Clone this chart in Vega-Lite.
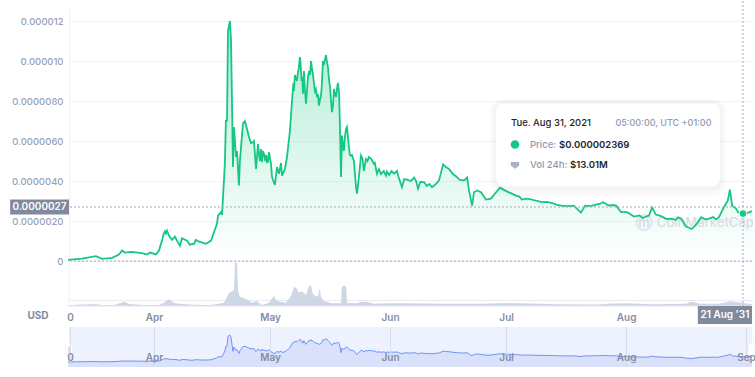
{"$schema":"https://vega.github.io/schema/vega-lite/v6.json","padding":{"left":10,"top":0,"right":0,"bottom":0},"background":"white","bounds":"flush","spacing":0,
"config":{"view":{"stroke":null},"font":"Inter","axis":{"labelFont":"Inter","title":null}},
"datasets":{"one":[{"n":1}],
"prices":[{"d":"2021-03-09T19:00","p":0.06e-6},{"d":"2021-03-13T10:00","p":0.12e-6},{"d":"2021-03-17T00:00","p":0.24e-6},{"d":"2021-03-18T14:00","p":0.11e-6},{"d":"2021-03-21T04:00","p":0.16e-6},{"d":"2021-03-22T23:00","p":0.32e-6},{"d":"2021-03-23T18:00","p":0.52e-6},{"d":"2021-03-24T12:00","p":0.42e-6},{"d":"2021-03-26T01:00","p":0.46e-6},{"d":"2021-03-28T22:00","p":0.39e-6},{"d":"2021-03-30T05:00","p":0.32e-6},{"d":"2021-03-30T23:00","p":0.42e-6},{"d":"2021-04-01T12:00","p":0.33e-6},{"d":"2021-04-02T07:00","p":0.52e-6},{"d":"2021-04-03T02:00","p":1.02e-6},{"d":"2021-04-03T10:00","p":1.3e-6},{"d":"2021-04-03T20:00","p":1.49e-6},{"d":"2021-04-04T02:00","p":1.38e-6},{"d":"2021-04-04T09:00","p":1.52e-6},{"d":"2021-04-04T21:00","p":1.27e-6},{"d":"2021-04-05T05:00","p":1.18e-6},{"d":"2021-04-05T16:00","p":1.06e-6},{"d":"2021-04-06T10:00","p":1.22e-6},{"d":"2021-04-06T23:00","p":1.02e-6},{"d":"2021-04-07T17:00","p":0.77e-6},{"d":"2021-04-08T06:00","p":1.14e-6},{"d":"2021-04-09T13:00","p":1.02e-6},{"d":"2021-04-10T07:00","p":0.81e-6},{"d":"2021-04-10T20:00","p":0.85e-6},{"d":"2021-04-11T08:00","p":0.86e-6},{"d":"2021-04-11T20:00","p":1.06e-6},{"d":"2021-04-12T12:00","p":0.98e-6},{"d":"2021-04-13T03:00","p":0.94e-6},{"d":"2021-04-14T11:00","p":0.86e-6},{"d":"2021-04-15T18:00","p":1.02e-6},{"d":"2021-04-16T12:00","p":1.44e-6},{"d":"2021-04-17T07:00","p":1.86e-6},{"d":"2021-04-17T13:00","p":2.27e-6},{"d":"2021-04-18T07:00","p":2.44e-6},{"d":"2021-04-18T14:00","p":2.3e-6},{"d":"2021-04-18T20:00","p":3.19e-6},{"d":"2021-04-19T02:00","p":4.02e-6},{"d":"2021-04-19T08:00","p":4.94e-6},{"d":"2021-04-19T14:00","p":7.02e-6},{"d":"2021-04-19T21:00","p":7.02e-6},{"d":"2021-04-20T03:00","p":11.5e-6},{"d":"2021-04-20T15:00","p":12.0e-6},{"d":"2021-04-20T22:00","p":11.0e-6},{"d":"2021-04-21T04:00","p":7.87e-6},{"d":"2021-04-21T10:00","p":4.7e-6},{"d":"2021-04-21T16:00","p":6.7e-6},{"d":"2021-04-22T05:00","p":5.2e-6},{"d":"2021-04-22T11:00","p":5.5e-6},{"d":"2021-04-22T23:00","p":3.78e-6},{"d":"2021-04-23T05:00","p":5.0e-6},{"d":"2021-04-23T12:00","p":5.7e-6},{"d":"2021-04-24T00:00","p":6.87e-6},{"d":"2021-04-24T12:00","p":7.0e-6},{"d":"2021-04-25T01:00","p":6.6e-6},{"d":"2021-04-25T13:00","p":6.2e-6},{"d":"2021-04-26T02:00","p":5.9e-6},{"d":"2021-04-26T14:00","p":5.94e-6},{"d":"2021-04-26T20:00","p":6.0e-6},{"d":"2021-04-27T02:00","p":5.36e-6},{"d":"2021-04-27T09:00","p":4.6e-6},{"d":"2021-04-27T15:00","p":5.2e-6},{"d":"2021-04-27T21:00","p":5.86e-6},{"d":"2021-04-28T03:00","p":5.36e-6},{"d":"2021-04-28T09:00","p":5.0e-6},{"d":"2021-04-28T16:00","p":5.6e-6},{"d":"2021-04-28T22:00","p":4.94e-6},{"d":"2021-04-29T03:00","p":5.5e-6},{"d":"2021-04-29T10:00","p":5.36e-6},{"d":"2021-04-29T18:00","p":5.0e-6},{"d":"2021-04-30T00:00","p":5.3e-6},{"d":"2021-04-30T05:00","p":4.94e-6},{"d":"2021-04-30T11:00","p":4.95e-6},{"d":"2021-04-30T17:00","p":5.44e-6},{"d":"2021-05-01T06:00","p":4.86e-6},{"d":"2021-05-01T12:00","p":4.2e-6},{"d":"2021-05-02T06:00","p":3.8e-6},{"d":"2021-05-02T19:00","p":4.7e-6},{"d":"2021-05-03T07:00","p":4.36e-6},{"d":"2021-05-03T20:00","p":4.9e-6},{"d":"2021-05-04T02:00","p":4.27e-6},{"d":"2021-05-04T20:00","p":4.6e-6},{"d":"2021-05-05T09:00","p":5.2e-6},{"d":"2021-05-06T03:00","p":6.5e-6},{"d":"2021-05-06T16:00","p":8.0e-6},{"d":"2021-05-07T01:00","p":8.9e-6},{"d":"2021-05-07T04:00","p":8.5e-6},{"d":"2021-05-07T10:00","p":9.3e-6},{"d":"2021-05-07T23:00","p":9.0e-6},{"d":"2021-05-08T05:00","p":9.44e-6},{"d":"2021-05-08T10:00","p":9.6e-6},{"d":"2021-05-08T17:00","p":10.2e-6},{"d":"2021-05-08T21:00","p":9.9e-6},{"d":"2021-05-09T00:00","p":9.5e-6},{"d":"2021-05-09T03:00","p":9.0e-6},{"d":"2021-05-09T08:00","p":9.2e-6},{"d":"2021-05-09T12:00","p":8.36e-6},{"d":"2021-05-09T18:00","p":9.5e-6},{"d":"2021-05-10T00:00","p":8.6e-6},{"d":"2021-05-10T07:00","p":7.87e-6},{"d":"2021-05-10T12:00","p":8.4e-6},{"d":"2021-05-10T19:00","p":9.2e-6},{"d":"2021-05-11T02:00","p":9.5e-6},{"d":"2021-05-11T08:00","p":9.3e-6},{"d":"2021-05-11T14:00","p":10.0e-6},{"d":"2021-05-11T20:00","p":9.6e-6},{"d":"2021-05-12T02:00","p":9.36e-6},{"d":"2021-05-12T08:00","p":8.9e-6},{"d":"2021-05-12T14:00","p":8.5e-6},{"d":"2021-05-12T20:00","p":8.6e-6},{"d":"2021-05-13T03:00","p":8.2e-6},{"d":"2021-05-13T09:00","p":8.35e-6},{"d":"2021-05-13T15:00","p":7.77e-6},{"d":"2021-05-13T21:00","p":8.05e-6},{"d":"2021-05-14T04:00","p":8.27e-6},{"d":"2021-05-14T09:00","p":8.8e-6},{"d":"2021-05-14T16:00","p":10.0e-6},{"d":"2021-05-14T21:00","p":9.8e-6},{"d":"2021-05-15T05:00","p":10.1e-6},{"d":"2021-05-15T11:00","p":10.3e-6},{"d":"2021-05-15T17:00","p":9.95e-6},{"d":"2021-05-15T23:00","p":9.7e-6},{"d":"2021-05-16T05:00","p":9.1e-6},{"d":"2021-05-16T12:00","p":8.7e-6},{"d":"2021-05-16T18:00","p":8.0e-6},{"d":"2021-05-17T00:00","p":7.44e-6},{"d":"2021-05-17T06:00","p":7.7e-6},{"d":"2021-05-17T12:00","p":8.6e-6},{"d":"2021-05-17T18:00","p":8.35e-6},{"d":"2021-05-18T01:00","p":8.2e-6},{"d":"2021-05-18T07:00","p":8.6e-6},{"d":"2021-05-18T13:00","p":8.9e-6},{"d":"2021-05-18T20:00","p":8.4e-6},{"d":"2021-05-19T01:00","p":6.87e-6},{"d":"2021-05-19T08:00","p":4.2e-6},{"d":"2021-05-19T14:00","p":6.27e-6},{"d":"2021-05-19T20:00","p":5.8e-6},{"d":"2021-05-20T02:00","p":5.5e-6},{"d":"2021-05-20T08:00","p":6.2e-6},{"d":"2021-05-20T15:00","p":6.6e-6},{"d":"2021-05-20T21:00","p":6.7e-6},{"d":"2021-05-21T03:00","p":6.2e-6},{"d":"2021-05-21T09:00","p":5.7e-6},{"d":"2021-05-21T15:00","p":5.3e-6},{"d":"2021-05-21T22:00","p":5.27e-6},{"d":"2021-05-22T04:00","p":5.3e-6},{"d":"2021-05-22T16:00","p":5.0e-6},{"d":"2021-05-23T05:00","p":3.7e-6},{"d":"2021-05-23T11:00","p":3.37e-6},{"d":"2021-05-23T23:00","p":4.2e-6},{"d":"2021-05-24T12:00","p":5.27e-6},{"d":"2021-05-24T22:00","p":5.1e-6},{"d":"2021-05-25T06:00","p":4.5e-6},{"d":"2021-05-25T19:00","p":5.1e-6},{"d":"2021-05-26T04:00","p":5.0e-6},{"d":"2021-05-26T13:00","p":5.2e-6},{"d":"2021-05-27T04:00","p":5.1e-6},{"d":"2021-05-27T20:00","p":4.86e-6},{"d":"2021-05-28T02:00","p":4.9e-6},{"d":"2021-05-28T15:00","p":4.36e-6},{"d":"2021-05-29T03:00","p":4.6e-6},{"d":"2021-05-29T16:00","p":4.35e-6},{"d":"2021-05-30T09:00","p":4.5e-6},{"d":"2021-05-30T23:00","p":4.27e-6},{"d":"2021-05-31T05:00","p":4.47e-6},{"d":"2021-05-31T18:00","p":4.3e-6},{"d":"2021-06-01T10:00","p":4.5e-6},{"d":"2021-06-02T01:00","p":4.36e-6},{"d":"2021-06-02T19:00","p":4.5e-6},{"d":"2021-06-03T05:00","p":4.2e-6},{"d":"2021-06-04T02:00","p":3.69e-6},{"d":"2021-06-04T16:00","p":4.1e-6},{"d":"2021-06-05T09:00","p":4.07e-6},{"d":"2021-06-06T10:00","p":4.0e-6},{"d":"2021-06-07T05:00","p":4.17e-6},{"d":"2021-06-07T18:00","p":4.0e-6},{"d":"2021-06-08T06:00","p":3.62e-6},{"d":"2021-06-08T20:00","p":3.95e-6},{"d":"2021-06-09T19:00","p":3.94e-6},{"d":"2021-06-10T12:00","p":3.75e-6},{"d":"2021-06-11T04:00","p":3.85e-6},{"d":"2021-06-11T20:00","p":3.69e-6},{"d":"2021-06-12T20:00","p":3.85e-6},{"d":"2021-06-13T16:00","p":4.03e-6},{"d":"2021-06-14T17:00","p":4.83e-6},{"d":"2021-06-15T10:00","p":4.7e-6},{"d":"2021-06-16T06:00","p":4.6e-6},{"d":"2021-06-17T06:00","p":4.35e-6},{"d":"2021-06-18T07:00","p":4.2e-6},{"d":"2021-06-19T00:00","p":4.05e-6},{"d":"2021-06-20T03:00","p":4.03e-6},{"d":"2021-06-20T22:00","p":4.17e-6},{"d":"2021-06-21T10:00","p":3.53e-6},{"d":"2021-06-22T05:00","p":2.77e-6},{"d":"2021-06-22T17:00","p":3.44e-6},{"d":"2021-06-23T12:00","p":3.53e-6},{"d":"2021-06-24T12:00","p":3.44e-6},{"d":"2021-06-25T19:00","p":3.07e-6},{"d":"2021-06-27T02:00","p":3.12e-6},{"d":"2021-06-28T10:00","p":3.44e-6},{"d":"2021-06-29T10:00","p":3.67e-6},{"d":"2021-07-01T06:00","p":3.47e-6},{"d":"2021-07-02T08:00","p":3.38e-6},{"d":"2021-07-03T13:00","p":3.27e-6},{"d":"2021-07-04T10:00","p":3.22e-6},{"d":"2021-07-05T02:00","p":3.07e-6},{"d":"2021-07-06T08:00","p":3.12e-6},{"d":"2021-07-07T17:00","p":3.07e-6},{"d":"2021-07-09T00:00","p":3.0e-6},{"d":"2021-07-10T07:00","p":2.94e-6},{"d":"2021-07-11T12:00","p":2.96e-6},{"d":"2021-07-12T22:00","p":2.9e-6},{"d":"2021-07-14T00:00","p":2.82e-6},{"d":"2021-07-15T05:00","p":2.77e-6},{"d":"2021-07-16T20:00","p":2.74e-6},{"d":"2021-07-18T12:00","p":2.77e-6},{"d":"2021-07-20T08:00","p":2.42e-6},{"d":"2021-07-21T10:00","p":2.77e-6},{"d":"2021-07-22T20:00","p":2.74e-6},{"d":"2021-07-24T05:00","p":2.82e-6},{"d":"2021-07-25T05:00","p":2.85e-6},{"d":"2021-07-26T00:00","p":2.94e-6},{"d":"2021-07-26T20:00","p":2.85e-6},{"d":"2021-07-27T14:00","p":2.77e-6},{"d":"2021-07-28T12:00","p":2.8e-6},{"d":"2021-07-29T10:00","p":2.77e-6},{"d":"2021-07-30T17:00","p":2.44e-6},{"d":"2021-08-01T06:00","p":2.44e-6},{"d":"2021-08-02T10:00","p":2.3e-6},{"d":"2021-08-03T01:00","p":2.22e-6},{"d":"2021-08-04T12:00","p":2.28e-6},{"d":"2021-08-05T05:00","p":2.15e-6},{"d":"2021-08-06T03:00","p":2.22e-6},{"d":"2021-08-06T22:00","p":2.27e-6},{"d":"2021-08-07T17:00","p":2.67e-6},{"d":"2021-08-08T17:00","p":2.32e-6},{"d":"2021-08-09T12:00","p":2.28e-6},{"d":"2021-08-10T07:00","p":2.22e-6},{"d":"2021-08-11T12:00","p":2.1e-6},{"d":"2021-08-12T22:00","p":2.12e-6},{"d":"2021-08-13T20:00","p":2.05e-6},{"d":"2021-08-14T10:00","p":2.18e-6},{"d":"2021-08-15T05:00","p":2.12e-6},{"d":"2021-08-16T12:00","p":1.72e-6},{"d":"2021-08-18T00:00","p":1.6e-6},{"d":"2021-08-19T07:00","p":1.87e-6},{"d":"2021-08-20T10:00","p":2.19e-6},{"d":"2021-08-21T10:00","p":2.08e-6},{"d":"2021-08-22T10:00","p":2.12e-6},{"d":"2021-08-23T12:00","p":2.2e-6},{"d":"2021-08-24T06:00","p":2.08e-6},{"d":"2021-08-25T00:00","p":2.19e-6},{"d":"2021-08-26T07:00","p":2.69e-6},{"d":"2021-08-27T07:00","p":3.03e-6},{"d":"2021-08-27T20:00","p":3.57e-6},{"d":"2021-08-28T10:00","p":2.77e-6},{"d":"2021-08-29T10:00","p":2.62e-6},{"d":"2021-08-29T22:00","p":2.44e-6},{"d":"2021-08-31T05:00","p":2.369e-6},{"d":"2021-09-01T00:00","p":2.37e-6},{"d":"2021-09-02T13:00","p":2.49e-6}],
"volumes":[{"d":"2021-03-09T19:00","v":3},{"d":"2021-03-13T10:00","v":7},{"d":"2021-03-17T00:00","v":9},{"d":"2021-03-18T14:00","v":5},{"d":"2021-03-21T17:00","v":5},{"d":"2021-03-23T12:00","v":14},{"d":"2021-03-24T12:00","v":20},{"d":"2021-03-25T12:00","v":9},{"d":"2021-03-29T10:00","v":5},{"d":"2021-04-02T07:00","v":5},{"d":"2021-04-03T14:00","v":15},{"d":"2021-04-04T21:00","v":30},{"d":"2021-04-06T04:00","v":15},{"d":"2021-04-07T11:00","v":10},{"d":"2021-04-11T08:00","v":6},{"d":"2021-04-15T05:00","v":5},{"d":"2021-04-16T12:00","v":7},{"d":"2021-04-19T02:00","v":15},{"d":"2021-04-20T10:00","v":59},{"d":"2021-04-21T16:00","v":70},{"d":"2021-04-21T22:00","v":190},{"d":"2021-04-22T05:00","v":197},{"d":"2021-04-22T11:00","v":190},{"d":"2021-04-22T17:00","v":70},{"d":"2021-04-23T05:00","v":40},{"d":"2021-04-24T06:00","v":34},{"d":"2021-04-25T13:00","v":25},{"d":"2021-04-26T07:00","v":15},{"d":"2021-04-27T14:00","v":22},{"d":"2021-04-28T22:00","v":5},{"d":"2021-04-30T17:00","v":15},{"d":"2021-05-02T00:00","v":44},{"d":"2021-05-02T19:00","v":22},{"d":"2021-05-05T02:00","v":15},{"d":"2021-05-06T10:00","v":44},{"d":"2021-05-07T04:00","v":84},{"d":"2021-05-07T17:00","v":81},{"d":"2021-05-08T11:00","v":59},{"d":"2021-05-09T05:00","v":66},{"d":"2021-05-10T07:00","v":49},{"d":"2021-05-11T01:00","v":89},{"d":"2021-05-11T14:00","v":92},{"d":"2021-05-12T02:00","v":52},{"d":"2021-05-13T07:00","v":40},{"d":"2021-05-13T20:00","v":78},{"d":"2021-05-14T04:00","v":40},{"d":"2021-05-14T22:00","v":22},{"d":"2021-05-17T00:00","v":12},{"d":"2021-05-19T08:00","v":12},{"d":"2021-05-19T14:00","v":85},{"d":"2021-05-19T20:00","v":89},{"d":"2021-05-20T15:00","v":89},{"d":"2021-05-20T21:00","v":15},{"d":"2021-05-23T11:00","v":12},{"d":"2021-05-24T12:00","v":19},{"d":"2021-05-26T00:00","v":19},{"d":"2021-05-27T20:00","v":10},{"d":"2021-05-31T18:00","v":12},{"d":"2021-06-05T00:00","v":12},{"d":"2021-06-15T00:00","v":10},{"d":"2021-06-25T00:00","v":10},{"d":"2021-07-01T00:00","v":13},{"d":"2021-07-15T00:00","v":8},{"d":"2021-07-25T00:00","v":7},{"d":"2021-07-27T00:00","v":10},{"d":"2021-08-01T00:00","v":12},{"d":"2021-08-08T00:00","v":8},{"d":"2021-08-16T12:00","v":10},{"d":"2021-08-18T00:00","v":20},{"d":"2021-08-20T00:00","v":10},{"d":"2021-08-25T00:00","v":10},{"d":"2021-08-28T00:00","v":21},{"d":"2021-08-31T05:00","v":13.01},{"d":"2021-09-02T13:00","v":8}]},
"vconcat":[
{"width":683,"height":255,"data":{"name":"prices"},
"layer":[
{"mark":{"type":"area","color":{"gradient":"linear","x1":0,"y1":0,"x2":0,"y2":1,"stops":[{"offset":0,"color":"rgba(22,199,132,0.34)"},{"offset":1,"color":"rgba(22,199,132,0)"}]}},
"encoding":{"x":{"field":"d","type":"temporal","scale":{"domain":["2021-03-10T01:00","2021-09-02T13:00"]},"axis":null},"y":{"field":"p","type":"quantitative","scale":{"domain":[0,1.275e-5],"nice":false},
"axis":{"values":[0,2e-6,4e-6,6e-6,8e-6,1e-5,1.2e-5],"labelExpr":"datum.value==0?'0':datum.value>=9e-6?format(datum.value,'.6f'):format(datum.value,'.7f')","labelColor":"#98a1b5","labelFontSize":9.5,"labelFontWeight":500,"labelPadding":6,"ticks":false,"domainColor":"#eef1f6","gridColor":"#eff2f5","grid":true}}}},
{"data":{"name":"one"},"mark":{"type":"text","color":"#d8dde9","fontSize":13,"align":"left","fontWeight":500},"encoding":{"x":{"datum":{"year":2021,"month":8,"date":8,"hours":23},"type":"temporal"},"y":{"datum":1.925e-6,"type":"quantitative"},"text":{"value":"CoinMarketCap"}}},
{"data":{"name":"one"},"mark":{"type":"point","filled":false,"color":"#d8dde9","strokeWidth":2,"size":230},"encoding":{"x":{"datum":{"year":2021,"month":8,"date":5,"hours":15},"type":"temporal"},"y":{"datum":1.925e-6,"type":"quantitative"}}},
{"data":{"name":"one"},"mark":{"type":"text","color":"#d8dde9","fontSize":13,"fontWeight":700},"encoding":{"x":{"datum":{"year":2021,"month":8,"date":5,"hours":15},"type":"temporal"},"y":{"datum":1.925e-6,"type":"quantitative"},"text":{"value":"m"}}},
{"mark":{"type":"line","color":"#16c784","strokeWidth":1.8},"encoding":{"x":{"field":"d","type":"temporal"},"y":{"field":"p","type":"quantitative"}}},
{"data":{"name":"one"},"mark":{"type":"rule","color":"#9ca6c4","strokeDash":[2,2],"strokeWidth":1},"encoding":{"y":{"datum":2.7e-6,"type":"quantitative"}}},
{"data":{"name":"one"},"mark":{"type":"rule","color":"#9ca6c4","strokeDash":[2,2],"strokeWidth":1},"encoding":{"y":{"datum":0,"type":"quantitative"}}},
{"data":{"name":"one"},"mark":{"type":"rule","color":"#9ca6c4","strokeDash":[2,2],"strokeWidth":1},"encoding":{"x":{"datum":{"year":2021,"month":8,"date":31,"hours":5},"type":"temporal"},"y":{"datum":1.3e-5,"type":"quantitative"},"y2":{"datum":0}}},
{"data":{"name":"one"},"mark":{"type":"point","filled":true,"opacity":1,"color":"#16c784","stroke":"white","strokeWidth":1,"size":60},"encoding":{"x":{"datum":{"year":2021,"month":8,"date":31,"hours":5},"type":"temporal"},"y":{"datum":2.369e-6,"type":"quantitative"}}},
{"data":{"name":"one"},"mark":{"type":"rect","color":"#58667e","opacity":0.03,"cornerRadius":12},"encoding":{"x":{"datum":{"year":2021,"month":6,"date":26,"hours":22},"type":"temporal"},"x2":{"datum":{"year":2021,"month":8,"date":26,"hours":18}},"y":{"datum":8.1e-6,"type":"quantitative"},"y2":{"datum":3.25e-6}}},
{"data":{"name":"one"},"mark":{"type":"rect","color":"#58667e","opacity":0.04,"cornerRadius":10},"encoding":{"x":{"datum":{"year":2021,"month":6,"date":27,"hours":16},"type":"temporal"},"x2":{"datum":{"year":2021,"month":8,"date":26,"hours":0}},"y":{"datum":8.0e-6,"type":"quantitative"},"y2":{"datum":3.5e-6}}},
{"data":{"name":"one"},"mark":{"type":"rect","color":"#ffffff","opacity":1,"cornerRadius":8},"encoding":{"x":{"datum":{"year":2021,"month":6,"date":28,"hours":10},"type":"temporal"},"x2":{"datum":{"year":2021,"month":8,"date":25,"hours":6}},"y":{"datum":7.875e-6,"type":"quantitative"},"y2":{"datum":3.725e-6}}},
{"data":{"name":"one"},"mark":{"type":"text","color":"#222531","fontSize":9.5,"align":"left","fontWeight":500},"encoding":{"x":{"datum":{"year":2021,"month":7,"date":2,"hours":6},"type":"temporal"},"y":{"datum":6.925e-6,"type":"quantitative"},"text":{"value":"Tue. Aug 31, 2021"}}},
{"data":{"name":"one"},"mark":{"type":"text","color":"#8f99b3","fontSize":9,"align":"left","fontWeight":500},"encoding":{"x":{"datum":{"year":2021,"month":7,"date":29,"hours":6},"type":"temporal"},"y":{"datum":6.925e-6,"type":"quantitative"},"text":{"value":"05:00:00, UTC +01:00"}}},
{"data":{"name":"one"},"mark":{"type":"point","filled":true,"opacity":1,"color":"#16c784","size":75},"encoding":{"x":{"datum":{"year":2021,"month":7,"date":3,"hours":7},"type":"temporal"},"y":{"datum":5.825e-6,"type":"quantitative"}}},
{"data":{"name":"one"},"mark":{"type":"text","color":"#8f99b3","fontSize":9.5,"align":"left","fontWeight":500},"encoding":{"x":{"datum":{"year":2021,"month":7,"date":7,"hours":4},"type":"temporal"},"y":{"datum":5.825e-6,"type":"quantitative"},"text":{"value":"Price:"}}},
{"data":{"name":"one"},"mark":{"type":"text","color":"#222531","fontSize":9.5,"align":"left","fontWeight":600},"encoding":{"x":{"datum":{"year":2021,"month":7,"date":14,"hours":16},"type":"temporal"},"y":{"datum":5.825e-6,"type":"quantitative"},"text":{"value":"$0.000002369"}}},
{"data":{"name":"one"},"mark":{"type":"point","filled":true,"opacity":1,"color":"#a9b2c6","size":70,"shape":"M-1,-0.6L1,-0.6L1,0.3L0,1L-1,0.3Z"},"encoding":{"x":{"datum":{"year":2021,"month":7,"date":3,"hours":7},"type":"temporal"},"y":{"datum":4.825e-6,"type":"quantitative"}}},
{"data":{"name":"one"},"mark":{"type":"text","color":"#8f99b3","fontSize":9.5,"align":"left","fontWeight":500},"encoding":{"x":{"datum":{"year":2021,"month":7,"date":7,"hours":4},"type":"temporal"},"y":{"datum":4.825e-6,"type":"quantitative"},"text":{"value":"Vol 24h:"}}},
{"data":{"name":"one"},"mark":{"type":"text","color":"#222531","fontSize":9.5,"align":"left","fontWeight":600},"encoding":{"x":{"datum":{"year":2021,"month":7,"date":17,"hours":12},"type":"temporal"},"y":{"datum":4.825e-6,"type":"quantitative"},"text":{"value":"$13.01M"}}},
{"data":{"name":"one"},"mark":{"type":"rect","color":"#808a9d","opacity":1,"clip":false},"encoding":{"x":{"datum":{"year":2021,"month":2,"date":22,"hours":20},"type":"temporal"},"x2":{"datum":{"year":2021,"month":3,"date":10,"hours":1}},"y":{"datum":3.075e-6,"type":"quantitative"},"y2":{"datum":2.325e-6}}},
{"data":{"name":"one"},"mark":{"type":"text","color":"#ffffff","fontSize":10,"fontWeight":600},"encoding":{"x":{"datum":{"year":2021,"month":3,"date":2,"hours":10},"type":"temporal"},"y":{"datum":2.7e-6,"type":"quantitative"},"text":{"value":"0.0000027"}}}
]},
{"width":683,"height":66,"data":{"name":"volumes"},
"layer":[
{"mark":{"type":"area","color":"#cfd6e4"},"encoding":{"x":{"field":"d","type":"temporal","scale":{"domain":["2021-03-10T01:00","2021-09-02T13:00"]},
"axis":{"values":["2021-03-10T08:00","2021-04-01T00:00","2021-05-01T00:00","2021-06-01T00:00","2021-07-01T00:00","2021-08-01T00:00"],"labelExpr":"month(datum.value)==2?'0':timeFormat(datum.value,'%b')","labelColor":"#858da3","labelFontSize":10,"labelFontWeight":600,"labelPadding":-15,"ticks":false,"domain":false,"grid":false,"labelFlush":false,"labelBound":false,"labelOverlap":false,"zindex":1}},"y":{"field":"v","type":"quantitative","scale":{"domain":[-93.3,200],"nice":false,"zero":false},"axis":{"values":[27],"labels":false,"ticks":false,"domain":false,"grid":true,"gridColor":"#e8ebf1"}},"y2":{"datum":0}}},
{"data":{"name":"one"},"mark":{"type":"rule","color":"#e3e6ed","strokeWidth":1},"encoding":{"y":{"datum":0,"type":"quantitative"}}},
{"data":{"name":"one"},"mark":{"type":"rule","color":"#eef1f6","strokeWidth":1},"encoding":{"x":{"datum":{"year":2021,"month":3,"date":10,"hours":1},"type":"temporal"},"y":{"datum":200,"type":"quantitative"},"y2":{"datum":0}}},
{"data":{"name":"one"},"mark":{"type":"rule","color":"#9ca6c4","strokeDash":[2,2],"strokeWidth":1},"encoding":{"x":{"datum":{"year":2021,"month":8,"date":31,"hours":5},"type":"temporal"},"y":{"datum":200,"type":"quantitative"},"y2":{"datum":0}}},
{"data":{"name":"one"},"mark":{"type":"rect","color":"#808a9d","opacity":1},"encoding":{"x":{"datum":{"year":2021,"month":8,"date":19,"hours":13},"type":"temporal"},"x2":{"datum":{"year":2021,"month":9,"date":2,"hours":13}},"y":{"datum":0,"type":"quantitative"},"y2":{"datum":-80}}},
{"data":{"name":"one"},"mark":{"type":"text","color":"#ffffff","fontSize":10,"fontWeight":600},"encoding":{"x":{"datum":{"year":2021,"month":8,"date":26,"hours":13},"type":"temporal"},"y":{"datum":-38,"type":"quantitative"},"text":{"value":"21 Aug '31"}}},
{"data":{"name":"one"},"mark":{"type":"text","color":"#7f889e","fontSize":10,"fontWeight":700},"encoding":{"x":{"datum":{"year":2021,"month":3,"date":2,"hours":1},"type":"temporal"},"y":{"datum":-44,"type":"quantitative"},"text":{"value":"USD"}}}
]},
{"width":683,"height":40,"data":{"name":"prices"},"view":{"fill":"#eef2fe","stroke":null},
"layer":[
{"mark":{"type":"area","color":"#dae2fb"},"encoding":{"x":{"field":"d","type":"temporal","scale":{"domain":["2021-03-10T01:00","2021-09-02T13:00"]},
"axis":{"values":["2021-03-10T08:00","2021-04-01T00:00","2021-05-01T00:00","2021-06-01T00:00","2021-07-01T00:00","2021-08-01T00:00","2021-09-01T00:00"],"labelExpr":"month(datum.value)==2?'0':timeFormat(datum.value,'%b')","labelColor":"#858da3","labelFontSize":10,"labelFontWeight":600,"labelPadding":-15,"ticks":false,"domain":false,"grid":true,"gridColor":"#d7ddee","labelFlush":false,"labelBound":false,"labelOverlap":false,"zindex":1}},"y":{"field":"p","type":"quantitative","scale":{"domain":[-2.2e-6,15.6e-6],"nice":false,"zero":false},"axis":null},"y2":{"datum":-2.2e-6}}},
{"mark":{"type":"line","color":"#6f94f7","strokeWidth":1},"encoding":{"x":{"field":"d","type":"temporal"},"y":{"field":"p","type":"quantitative"}}},
{"data":{"name":"one"},"mark":{"type":"rect","color":"#ffffff","opacity":1,"cornerRadius":4,"stroke":"#e6e9f2","strokeWidth":0.5,"clip":false},"encoding":{"x":{"datum":{"year":2021,"month":3,"date":9,"hours":1},"type":"temporal"},"x2":{"datum":{"year":2021,"month":3,"date":11,"hours":1}},"y":{"datum":8.5e-6,"type":"quantitative"},"y2":{"datum":2.5e-6}}},
{"data":{"name":"one"},"mark":{"type":"rect","color":"#ffffff","opacity":1,"cornerRadius":4,"stroke":"#e6e9f2","strokeWidth":0.5,"clip":false},"encoding":{"x":{"datum":{"year":2021,"month":9,"date":1,"hours":13},"type":"temporal"},"x2":{"datum":{"year":2021,"month":9,"date":3,"hours":6}},"y":{"datum":8.5e-6,"type":"quantitative"},"y2":{"datum":2.5e-6}}},
{"data":{"name":"one"},"mark":{"type":"rule","color":"#b8bfd0","strokeWidth":1},"encoding":{"x":{"datum":{"year":2021,"month":3,"date":10,"hours":1},"type":"temporal"},"y":{"datum":7e-6,"type":"quantitative"},"y2":{"datum":4e-6}}}
]}
]}
